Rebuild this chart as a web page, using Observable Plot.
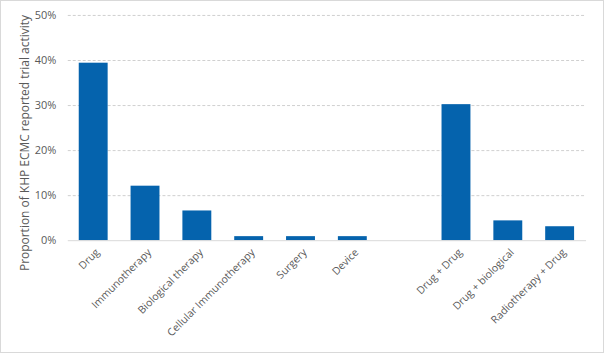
<!DOCTYPE html>
<html>
<head>
<meta charset="utf-8">
<script src="https://cdn.jsdelivr.net/npm/d3@7"></script>
<script src="https://cdn.jsdelivr.net/npm/@observablehq/plot@0.6"></script>
<style>
  html, body { margin: 0; padding: 0; background: #fff; }
  #chart { width: 602px; height: 351px; border: 1px solid #d9d9d9; position: relative; overflow: hidden; }
  #chart svg { position: absolute; left: -1px; top: -1px; }
</style>
</head>
<body>
<div id="chart"></div>
<script>
const categories = ["Drug", "Immunotherapy", "Biological therapy", "Cellular Immunotherapy", "Surgery", "Device", "gap", "Drug + Drug", "Drug + biological", "Radiotherapy + Drug"];
const values = [0.394, 0.121, 0.066, 0.009, 0.009, 0.009, null, 0.302, 0.044, 0.031];
const yTicks = [0, 0.1, 0.2, 0.3, 0.4, 0.5];
const yLabel = "Proportion of KHP ECMC reported trial activity";

const data = categories.map((c, i) => ({category: c, value: values[i]})).filter(d => d.value != null);

const chart = Plot.plot({
  width: 604,
  height: 353,
  marginLeft: 68,
  marginRight: 16,
  marginTop: 15,
  marginBottom: 112,
  style: {fontFamily: "'Open Sans', sans-serif", fontSize: "10px", color: "#595959", background: "transparent"},
  x: {domain: categories, paddingInner: 0.44, paddingOuter: 0.22, label: null},
  y: {domain: [0, 0.5], label: null},
  marks: [
    Plot.gridY(yTicks.filter(t => t > 0), {stroke: "#d0d0d0", strokeOpacity: 1, strokeDasharray: "3,2"}),
    Plot.barY(data, {x: "category", y: "value", fill: "#0563ad"}),
    Plot.ruleY([0], {stroke: "#d9d9d9", strokeWidth: 1}),
    Plot.axisY({ticks: yTicks, tickFormat: d3.format(".0%"), tickSize: 0, tickPadding: 12, label: null, fontSize: 11}),
    Plot.axisX({tickSize: 0, tickPadding: 10, dx: 4, tickRotate: -45, tickFormat: d => d === "gap" ? "" : d, label: null, fontSize: 10.5}),
    Plot.text([yLabel], {frameAnchor: "left", textAnchor: "middle", rotate: -90, dx: -43, dy: 15, fontSize: 12, fill: "#595959"})
  ]
});
document.getElementById("chart").appendChild(chart);
</script>
</body>
</html>
